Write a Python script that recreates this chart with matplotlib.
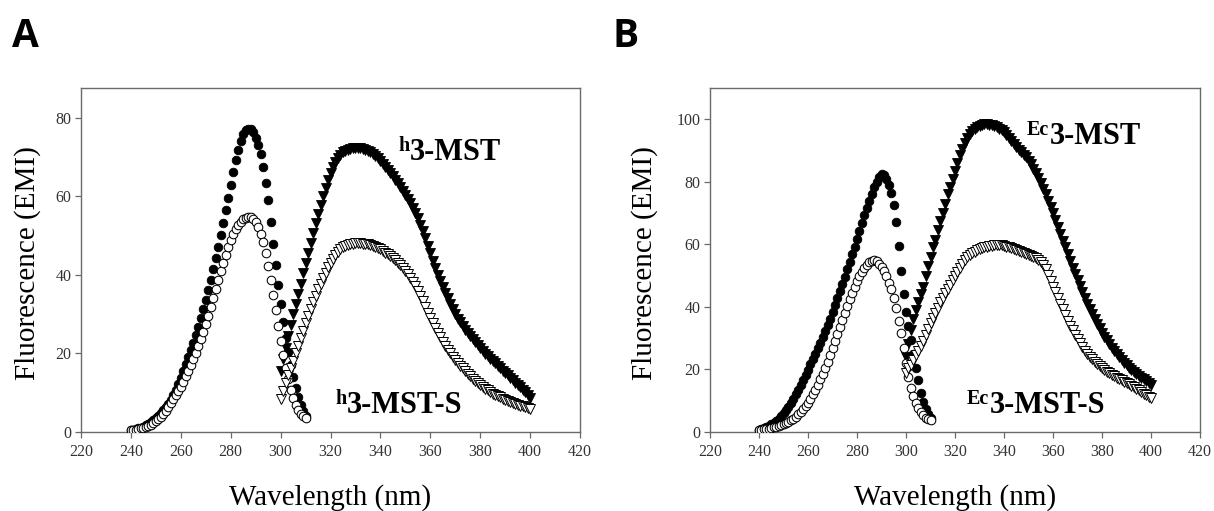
import matplotlib
matplotlib.use("Agg")
import matplotlib.pyplot as plt

# ---------------- data ----------------
wl_ex = list(range(240, 311))   # 240..310 nm, 1 nm steps
wl_em = list(range(300, 401))   # 300..400 nm, 1 nm steps

# Panel A (h3-MST)
A_filled_circ = [0.5, 0.6, 0.7, 0.9, 1.1, 1.4, 1.7, 2.1, 2.6, 3.1,
                 3.6, 4.2, 4.8, 5.5, 6.3, 7.2, 8.2, 9.4, 10.7, 12.2,
                 13.8, 15.5, 17.2, 19.0, 20.8, 22.7, 24.7, 26.8, 29.0, 31.3,
                 33.7, 36.2, 38.8, 41.5, 44.3, 47.2, 50.2, 53.3, 56.5, 59.7,
                 63.0, 66.2, 69.2, 71.9, 74.1, 75.8, 76.8, 77.2, 77.1, 76.3,
                 74.8, 73.0, 70.8, 67.5, 63.5, 59.0, 53.5, 48.0, 42.5, 37.5,
                 32.5, 28.0, 24.0, 20.3, 17.0, 14.0, 11.3, 9.0, 7.0, 5.3, 4.0]
A_open_circ = [0.4, 0.5, 0.6, 0.7, 0.9, 1.1, 1.3, 1.6, 1.9, 2.3,
               2.8, 3.3, 3.9, 4.6, 5.4, 6.3, 7.3, 8.4, 9.5, 10.5,
               11.5, 12.8, 14.3, 15.6, 17.0, 18.5, 20.1, 21.8, 23.6, 25.5,
               27.5, 29.6, 31.8, 34.0, 36.3, 38.6, 40.9, 43.1, 45.2, 47.1,
               48.8, 50.3, 51.6, 52.7, 53.6, 54.2, 54.6, 54.8, 54.7, 54.2,
               53.4, 52.2, 50.5, 48.3, 45.5, 42.3, 38.7, 35.0, 31.0, 27.0,
               23.2, 19.7, 16.4, 13.4, 10.8, 8.6, 6.9, 5.6, 4.7, 4.0, 3.5]
A_filled_tri = [15.5, 18.5, 21.5, 24.5, 27.3, 30.0, 32.6, 35.2, 37.8, 40.4,
                43.0, 45.6, 48.2, 50.7, 53.2, 55.6, 57.9, 60.1, 62.2, 64.1,
                65.9, 67.4, 68.7, 69.8, 70.6, 71.2, 71.6, 71.9, 72.1, 72.2,
                72.3, 72.3, 72.2, 72.1, 71.9, 71.6, 71.3, 70.9, 70.4, 69.8,
                69.1, 68.3, 67.5, 66.7, 65.9, 65.1, 64.2, 63.3, 62.4, 61.4,
                60.4, 59.3, 58.2, 57.1, 55.8, 54.4, 52.8, 51.1, 49.3, 47.4,
                45.5, 43.6, 41.8, 40.1, 38.5, 36.9, 35.4, 34.0, 32.6, 31.3,
                30.0, 28.9, 28.0, 27.0, 26.1, 25.2, 24.4, 23.6, 22.8, 22.1,
                21.3, 20.6, 19.9, 19.3, 18.7, 18.1, 17.5, 16.8, 16.2, 15.6,
                15.0, 14.4, 13.8, 13.2, 12.6, 12.0, 11.4, 10.8, 10.1, 9.4,
                8.7]
A_open_tri = [8.5, 10.5, 12.5, 14.4, 16.3, 18.2, 20.1, 22.0, 23.9, 25.8,
              27.7, 29.5, 31.3, 33.0, 34.7, 36.3, 37.8, 39.2, 40.6, 41.9,
              43.0, 44.1, 45.0, 45.8, 46.5, 47.0, 47.4, 47.7, 47.9, 48.0,
              48.1, 48.1, 48.1, 48.0, 47.9, 47.8, 47.6, 47.4, 47.1, 46.8,
              46.5, 46.1, 45.7, 45.3, 44.8, 44.3, 43.7, 43.1, 42.4, 41.7,
              41.0, 40.2, 39.3, 38.3, 37.2, 36.0, 34.7, 33.3, 31.9, 30.4,
              29.0, 27.7, 26.5, 25.3, 24.1, 23.0, 22.0, 21.0, 20.1, 19.2,
              18.4, 17.6, 16.9, 16.2, 15.5, 14.8, 14.2, 13.6, 13.1, 12.5,
              12.0, 11.5, 11.0, 10.6, 10.2, 9.8, 9.4, 9.1, 8.8, 8.4,
              8.1, 7.8, 7.6, 7.3, 7.1, 6.9, 6.7, 6.5, 6.3, 6.1,
              5.9]

# Panel B (Ec3-MST)
B_filled_circ = [0.7, 0.9, 1.2, 1.5, 1.9, 2.4, 3.0, 3.6, 4.3, 5.1,
                 6.0, 7.0, 8.1, 9.3, 10.6, 12.0, 13.5, 15.0, 16.6, 18.2,
                 19.9, 21.6, 23.3, 25.0, 26.8, 28.6, 30.4, 32.3, 34.2, 36.2,
                 38.3, 40.5, 42.7, 45.0, 47.3, 49.6, 52.0, 54.4, 56.8, 59.3,
                 61.8, 64.3, 66.8, 69.3, 71.7, 74.0, 76.2, 78.2, 80.0, 81.5,
                 82.5, 82.2, 81.0, 79.0, 76.5, 72.5, 67.0, 59.5, 51.5, 44.0,
                 38.5, 34.0, 29.5, 25.0, 20.5, 16.5, 12.5, 9.5, 7.2, 5.6, 4.5]
B_open_circ = [0.6, 0.7, 0.8, 1.0, 1.1, 1.3, 1.5, 1.7, 1.9, 2.2,
               2.5, 2.9, 3.3, 3.8, 4.3, 4.9, 5.6, 6.4, 7.3, 8.3,
               9.4, 10.6, 12.0, 13.5, 15.1, 16.8, 18.6, 20.5, 22.5, 24.6,
               26.8, 29.0, 31.3, 33.6, 35.9, 38.2, 40.4, 42.6, 44.6, 46.5,
               48.3, 49.9, 51.3, 52.5, 53.5, 54.3, 54.8, 55.0, 54.6, 53.8,
               52.8, 51.5, 49.8, 47.8, 45.6, 43.0, 39.5, 35.5, 31.5, 27.0,
               22.0, 17.5, 14.2, 11.5, 9.4, 7.7, 6.3, 5.3, 4.6, 4.1, 3.7]
B_filled_tri = [24.0, 28.0, 32.5, 36.0, 39.0, 41.5, 44.0, 46.5, 50.0, 53.0,
                56.0, 59.0, 61.5, 64.5, 67.5, 70.0, 73.0, 76.0, 78.5, 81.0,
                83.5, 86.0, 88.5, 90.5, 92.5, 94.0, 95.2, 96.2, 97.0, 97.6,
                98.0, 98.3, 98.4, 98.4, 98.3, 98.1, 97.8, 97.4, 97.0, 96.5,
                95.8, 95.0, 94.1, 93.1, 92.0, 91.0, 90.2, 89.4, 88.6, 87.8,
                86.8, 85.6, 84.2, 82.7, 81.2, 79.6, 77.8, 76.0, 74.0, 72.0,
                70.0, 67.8, 65.6, 63.4, 61.2, 59.0, 56.8, 54.7, 52.6, 50.6,
                48.6, 46.6, 44.7, 42.8, 41.0, 39.3, 37.7, 36.1, 34.6, 33.2,
                31.8, 30.5, 29.3, 28.1, 27.0, 25.9, 24.9, 24.0, 23.1, 22.2,
                21.4, 20.6, 19.9, 19.2, 18.6, 18.0, 17.4, 16.8, 16.2, 15.6,
                15.0]
B_open_tri = [19.0, 20.5, 21.5, 23.0, 24.5, 26.0, 27.5, 29.0, 31.0, 33.0,
              34.8, 36.5, 38.0, 39.8, 41.5, 43.0, 44.5, 45.8, 47.0, 48.5,
              50.0, 51.3, 52.6, 53.8, 55.0, 55.9, 56.6, 57.2, 57.7, 58.1,
              58.5, 58.8, 59.1, 59.3, 59.5, 59.6, 59.7, 59.8, 59.8, 59.7,
              59.5, 59.3, 59.0, 58.7, 58.4, 58.1, 57.8, 57.5, 57.2, 56.9,
              56.6, 56.3, 55.9, 55.5, 55.0, 54.3, 53.3, 52.0, 50.3, 48.3,
              46.5, 44.7, 42.8, 41.0, 39.2, 37.4, 35.6, 34.0, 32.5, 31.0,
              29.6, 28.3, 27.1, 26.0, 25.0, 24.1, 23.3, 22.5, 21.8, 21.1,
              20.5, 19.9, 19.3, 18.8, 18.3, 17.8, 17.3, 16.9, 16.5, 16.1,
              15.6, 15.2, 14.7, 14.3, 13.8, 13.3, 12.8, 12.3, 11.8, 11.3,
              10.8]

x_ticks = [220, 240, 260, 280, 300, 320, 340, 360, 380, 400, 420]
A_yticks = [0, 20, 40, 60, 80]
B_yticks = [0, 20, 40, 60, 80, 100]

# ---------------- figure ----------------
SERIF = ["Liberation Serif", "DejaVu Serif"]
W, H = 1214, 511
fig = plt.figure(figsize=(W / 100, H / 100), dpi=100)

spine_col = "#6a6a6a"
tick_col = "#333333"


def make_panel(rect, ymax, yticks, data, label_x, lbl_main, lbl_sup, pos_main, pos_s):
    ax = fig.add_axes(rect)
    fc, oc, ft, ot = data
    ax.plot(wl_ex, fc, linestyle="none", marker="o", ms=6.2, mfc="black",
            mec="black", mew=0.6, zorder=3)
    ax.plot(wl_ex, oc, linestyle="none", marker="o", ms=6.2, mfc="white",
            mec="black", mew=0.75, zorder=4)
    ax.plot(wl_em, ft, linestyle="none", marker="v", ms=7.2, mfc="black",
            mec="black", mew=0.6, zorder=3)
    ax.plot(wl_em, ot, linestyle="none", marker="v", ms=7.2, mfc="white",
            mec="black", mew=0.7, zorder=4)
    ax.set_xlim(220, 420)
    ax.set_ylim(0, ymax)
    ax.set_xticks(x_ticks)
    ax.set_yticks(yticks)
    for s in ax.spines.values():
        s.set_color(spine_col)
        s.set_linewidth(1.0)
    ax.tick_params(direction="out", length=4, width=0.9, color=spine_col,
                   labelcolor=tick_col, labelsize=11.5, pad=3,
                   top=False, right=False)
    ax.tick_params(axis="x", pad=5)
    for t in ax.get_xticklabels() + ax.get_yticklabels():
        t.set_family(SERIF)
    ax.set_xlabel("Wavelength (nm)", family=SERIF, fontsize=21)
    ax.set_ylabel("Fluorescence (EMI)", family=SERIF, fontsize=21)
    ax.xaxis.set_label_coords(0.5, -0.19)
    ax.xaxis.label.set_va("center")
    ax.yaxis.set_label_coords(label_x, 0.49)
    ax.yaxis.label.set_va("center")

    # annotations
    for (xx, yy), main in ((pos_main, lbl_main), (pos_s, lbl_main + "-S")):
        ax.text(xx, yy, main, family=SERIF, fontweight="bold", fontsize=22,
                ha="left", va="baseline", zorder=6)
        ax.annotate(lbl_sup, xy=(xx, yy), xytext=(-0.5, 6.5),
                    textcoords="offset points", family=SERIF,
                    fontweight="bold", fontsize=14.5, ha="right",
                    va="baseline", zorder=6)
    return ax


axA = make_panel([81 / W, 1 - 432 / H, 499 / W, 344 / H], 87.6, A_yticks,
                 (A_filled_circ, A_open_circ, A_filled_tri, A_open_tri),
                 -0.108, "3-MST", "h", (351.9, 69.3), (326.6, 4.8))
axB = make_panel([710 / W, 1 - 432 / H, 490 / W, 344 / H], 110, B_yticks,
                 (B_filled_circ, B_open_circ, B_filled_tri, B_open_tri),
                 -0.133, "3-MST", "Ec", (358.5, 92.0), (334.3, 6.1))

fig.text(12 / W, 1 - 47 / H, "A", family=["Open Sans", "DejaVu Sans"],
         fontweight="bold", fontsize=28, ha="left", va="baseline")
fig.text(612 / W, 1 - 47 / H, "B", family=["Open Sans", "DejaVu Sans"],
         fontweight="bold", fontsize=28, ha="left", va="baseline")

fig.savefig("out.png", dpi=100)
